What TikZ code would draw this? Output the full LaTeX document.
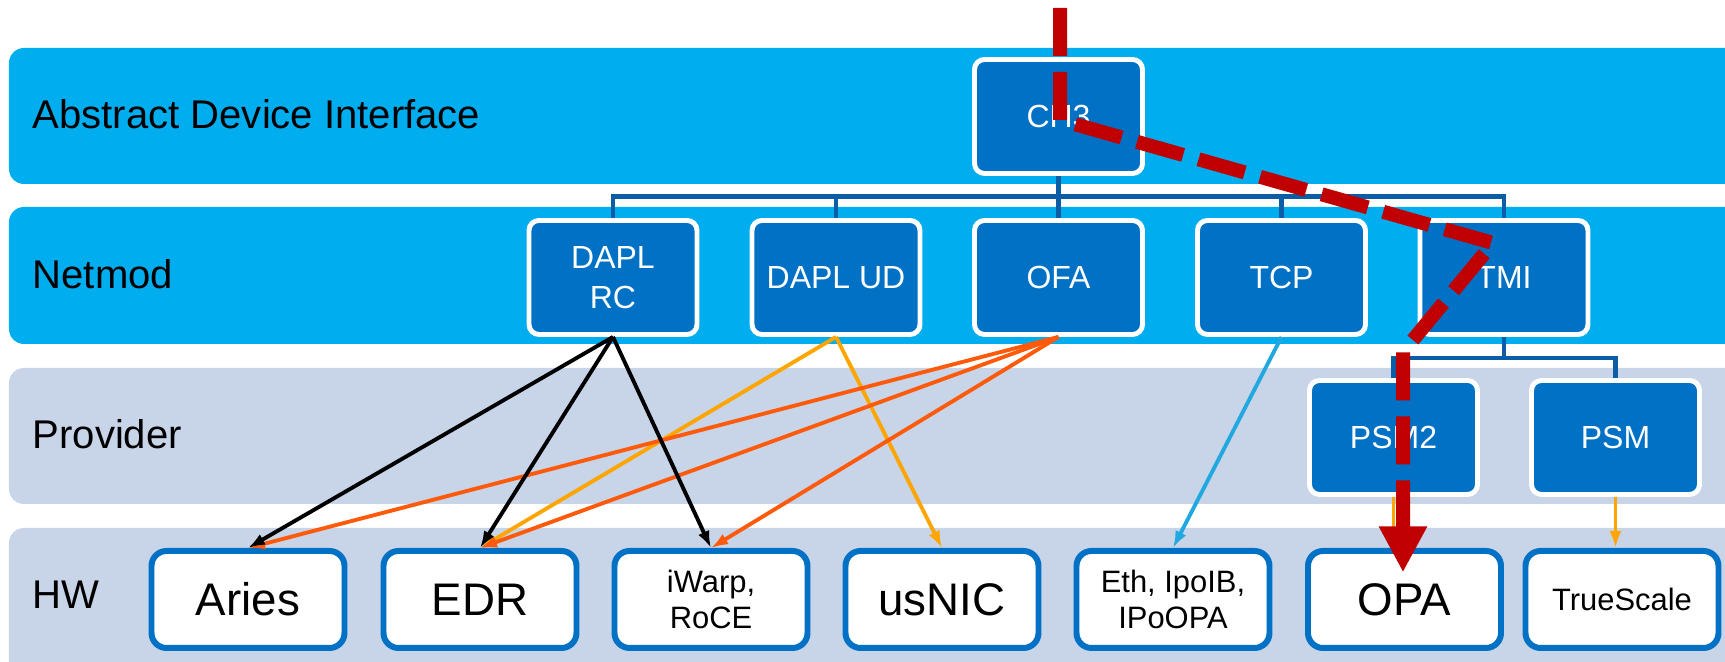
\documentclass[tikz,border=0pt]{standalone}
\usepackage{fontspec}
\setmainfont{Liberation Sans}
\usetikzlibrary{arrows.meta}

\definecolor{layercyan}{HTML}{00AEEF}
\definecolor{layergrey}{HTML}{C8D4E8}
\definecolor{modblue}{HTML}{0071C5}
\definecolor{treeblue}{HTML}{0B5EA6}
\definecolor{pathred}{HTML}{C00000}
\definecolor{ofaorange}{HTML}{FF5A0A}
\definecolor{udorange}{HTML}{FFA500}
\definecolor{tcpblue}{HTML}{22A8E0}

\begin{document}
\begin{tikzpicture}[
    layer/.style={rounded corners=0.15cm},
    lbl/.style={anchor=west, inner sep=0pt, font=\fontsize{11.4}{13}\selectfont},
    modbox/.style={rectangle, draw=white, line width=1.4pt, fill=modblue, rounded corners=0.1cm, minimum width=1.68cm, minimum height=1.14cm, align=center, text=white, font=\fontsize{9.1}{11.4}\selectfont},
    hwbox/.style={rectangle, draw=modblue, line width=1.7pt, fill=white, rounded corners=0.15cm, minimum width=1.93cm, minimum height=0.97cm, align=center, font=\fontsize{13}{15}\selectfont},
    hwsmall/.style={hwbox, font=\fontsize{8.8}{10.5}\selectfont},
    tree/.style={draw=treeblue, line width=1.4pt},
    link/.style={-{Latex[length=0.17cm,width=0.12cm]}, line width=1.1pt},
    route/.style={draw=pathred, line width=0.14cm, dash pattern=on 0.48cm off 0.16cm, -{Triangle[length=0.46cm,width=0.45cm]}}]

    \useasboundingbox (0,0) rectangle (17.25,6.62);

    % Layers
    \fill[layer, layercyan] (0.09,4.78) rectangle (17.6,6.14);
    \fill[layer, layercyan] (0.09,3.18) rectangle (17.6,4.55);
    \fill[layer, layergrey] (0.09,1.58) rectangle (17.6,2.94);
    \fill[layer, layergrey] (0.09,-0.3) rectangle (17.6,1.34);

    \node[lbl] (lbladi) at (0.32,5.48) {Abstract Device Interface};
    \node[lbl] (lblnet) at (0.32,3.88) {Netmod};
    \node[lbl] (lblprov) at (0.32,2.28) {Provider};
    \node[lbl] (lblhw) at (0.32,0.67) {HW};

    % Modules
    \node[modbox] (ch3) at (10.585,5.455) {CH3};
    \node[modbox] (daplrc) at (6.13,3.845) {DAPL\\RC};
    \node[modbox] (daplud) at (8.36,3.845) {DAPL UD};
    \node[modbox] (ofa) at (10.585,3.845) {OFA};
    \node[modbox] (tcp) at (12.815,3.845) {TCP};
    \node[modbox] (tmi) at (15.04,3.845) {TMI};
    \node[modbox] (psm2) at (13.935,2.245) {PSM2};
    \node[modbox] (psm) at (16.155,2.245) {PSM};

    % Hardware
    \node[hwbox] (aries) at (2.48,0.625) {Aries};
    \node[hwbox] (edr) at (4.80,0.625) {EDR};
    \node[hwsmall] (iwarp) at (7.11,0.625) {iWarp,\\RoCE};
    \node[hwbox] (usnic) at (9.42,0.625) {usNIC};
    \node[hwsmall] (eth) at (11.73,0.625) {Eth, IpoIB,\\IPoOPA};
    \node[hwbox] (opa) at (14.045,0.625) {OPA};
    \node[hwsmall] (truescale) at (16.22,0.625) {TrueScale};

    % Tree
    \coordinate (bus) at (10.585,4.655);
    \draw[tree] (ch3.south) -- (bus);
    \foreach \m in {daplrc,daplud,ofa,tcp,tmi}
        \draw[tree] (bus) -| (\m.north);
    \coordinate (psmbus) at (15.04,3.04);
    \draw[tree] (tmi.south) -- (psmbus);
    \foreach \m in {psm2,psm}
        \draw[tree] (psmbus) -| (\m.north);

    % Links
    \draw[link, udorange] (daplud.south) -- (edr.north);
    \draw[link, udorange] (daplud.south) -- (usnic.north);
    \draw[link, udorange] (psm2.south) -- (psm2.south |- opa.north);
    \draw[link, udorange] (psm.south) -- (psm.south |- truescale.north);
    \draw[link, ofaorange] (ofa.south) -- (aries.north);
    \draw[link, ofaorange] (ofa.south) -- (edr.north);
    \draw[link, ofaorange] (ofa.south) -- (iwarp.north);
    \draw[link, black] (daplrc.south) -- (aries.north);
    \draw[link, black] (daplrc.south) -- (edr.north);
    \draw[link, black] (daplrc.south) -- (iwarp.north);
    \draw[link, tcpblue] (tcp.south) -- (eth.north);

    % Route
    \coordinate (start) at (10.60,6.54);
    \coordinate (bend1) at (10.60,5.42);
    \coordinate (bend2) at (14.93,4.19);
    \coordinate (bend3) at (14.03,3.10);
    \draw[route, shorten >=0.27cm] (start) -- (bend1) -- (bend2) -- (bend3) -- (bend3 |- opa.center);
\end{tikzpicture}
\end{document}
